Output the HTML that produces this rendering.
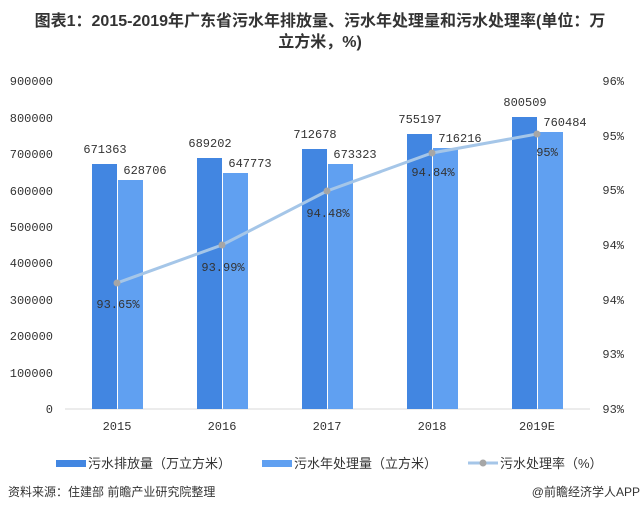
<!DOCTYPE html>
<html><head><meta charset="utf-8"><style>
body{margin:0;background:#fff;}
svg text{font-family:"Liberation Sans","Noto Sans CJK SC",sans-serif;}
svg .m text{font-family:"Liberation Mono","Noto Sans CJK SC",monospace;font-size:12px;fill:#333;}
</style></head><body>
<svg width="640" height="507" xmlns="http://www.w3.org/2000/svg">
<text x="320" y="26" text-anchor="middle" font-size="16" font-weight="bold" fill="#333">图表1：2015-2019年广东省污水年排放量、污水年处理量和污水处理率(单位：万</text>
<text x="320" y="47" text-anchor="middle" font-size="16" font-weight="bold" fill="#333">立方米，%)</text>
<g class="m" text-anchor="end">
<text x="53" y="85">900000</text><text x="53" y="122">800000</text><text x="53" y="158">700000</text><text x="53" y="195">600000</text><text x="53" y="231">500000</text><text x="53" y="267">400000</text><text x="53" y="304">300000</text><text x="53" y="340">200000</text><text x="53" y="377">100000</text><text x="53" y="413">0</text>
</g>
<g class="m" text-anchor="end">
<text x="624" y="85">96%</text><text x="624" y="140">95%</text><text x="624" y="194">95%</text><text x="624" y="249">94%</text><text x="624" y="304">94%</text><text x="624" y="358">93%</text><text x="624" y="413">93%</text>
</g>
<line x1="65" y1="409" x2="590" y2="409" stroke="#d9d9d9"/>
<g fill="#4286e1">
<rect x="92" y="164" width="25" height="245"/><rect x="197" y="158" width="25" height="251"/><rect x="302" y="149" width="25" height="260"/><rect x="407" y="134" width="25" height="275"/><rect x="512" y="117" width="25" height="292"/>
</g>
<g fill="#60a0f1">
<rect x="118" y="180" width="25" height="229"/><rect x="223" y="173" width="25" height="236"/><rect x="328" y="164" width="25" height="245"/><rect x="433" y="148" width="25" height="261"/><rect x="538" y="132" width="25" height="277"/>
</g>
<g class="m" text-anchor="middle">
<text x="105" y="153">671363</text><text x="210" y="147">689202</text><text x="315" y="138">712678</text><text x="420" y="123">755197</text><text x="525" y="106">800509</text>
<text x="145" y="174">628706</text><text x="250" y="167">647773</text><text x="355" y="158">673323</text><text x="460" y="142">716216</text><text x="565" y="126">760484</text>
</g>
<polyline points="117,283 222,245 327,191 432,153 537,134" fill="none" stroke="#a5c6e8" stroke-width="3"/>
<g fill="#a6a6a6"><circle cx="117" cy="283" r="3.5"/><circle cx="222" cy="245" r="3.5"/><circle cx="327" cy="191" r="3.5"/><circle cx="432" cy="153" r="3.5"/><circle cx="537" cy="134" r="3.5"/></g>
<g class="m" text-anchor="middle">
<text x="118" y="308">93.65%</text><text x="223" y="271">93.99%</text><text x="328" y="217">94.48%</text><text x="433" y="176">94.84%</text><text x="547" y="156">95%</text>
</g>
<g class="m" text-anchor="middle">
<text x="117" y="430">2015</text><text x="222" y="430">2016</text><text x="327" y="430">2017</text><text x="432" y="430">2018</text><text x="537" y="430">2019E</text>
</g>
<rect x="56" y="460" width="30" height="7" fill="#4286e1"/>
<text x="88" y="468" font-size="13" fill="#333">污水排放量（万立方米）</text>
<rect x="262" y="460" width="30" height="7" fill="#60a0f1"/>
<text x="294" y="468" font-size="13" fill="#333">污水年处理量（立方米）</text>
<line x1="468" y1="463" x2="498" y2="463" stroke="#a5c6e8" stroke-width="3"/>
<circle cx="483" cy="463" r="3.5" fill="#a6a6a6"/>
<text x="500" y="468" font-size="13" fill="#333">污水处理率（%）</text>
<text x="8" y="496" font-size="12" fill="#333">资料来源：住建部 前瞻产业研究院整理</text>
<text x="640" y="496" text-anchor="end" font-size="12" fill="#333">@前瞻经济学人APP</text>
</svg>
</body></html>
